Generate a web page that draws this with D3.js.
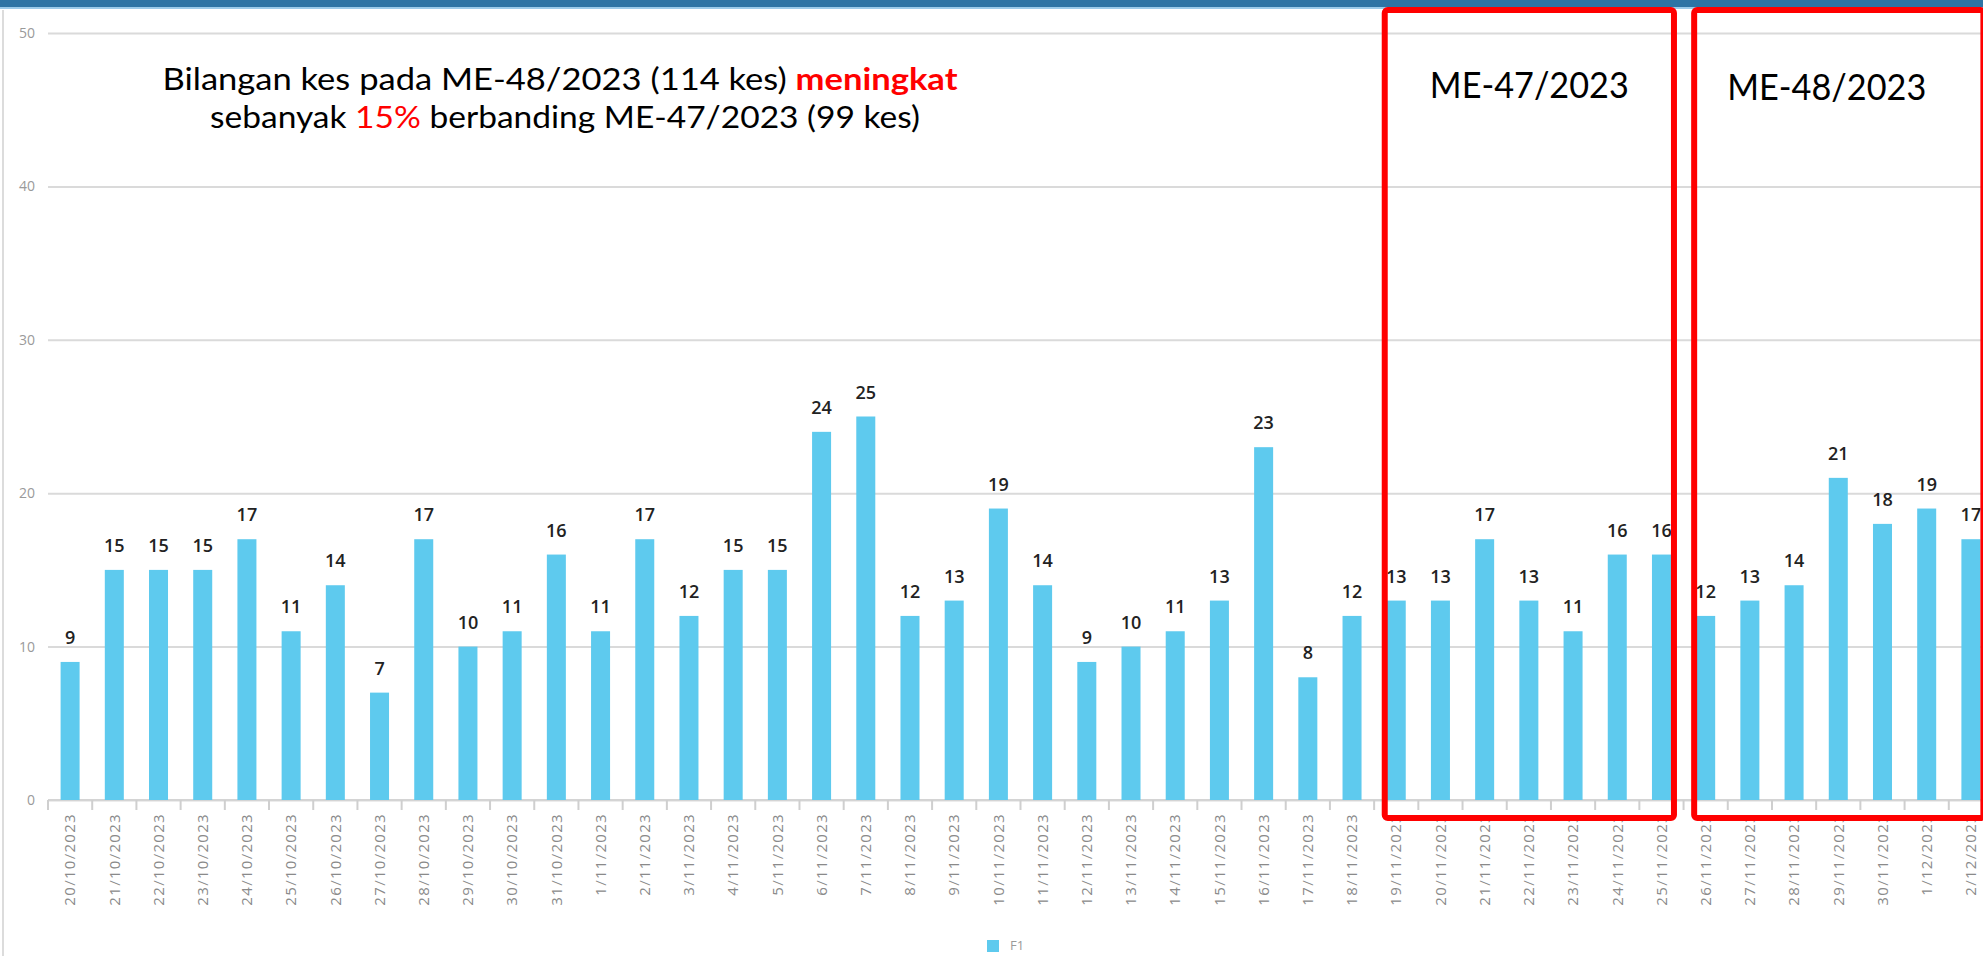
<!DOCTYPE html>
<html>
<head>
<meta charset="utf-8">
<script src="https://cdn.jsdelivr.net/npm/d3@7"></script>
<style>
  body { margin: 0; background: #fff; overflow: hidden; }
  svg { display: block; }
</style>
</head>
<body>
<svg id="chart" width="1983" height="956"></svg>
<script>
// daily case counts, 20/10/2023 - 2/12/2023
var dates = ["20/10/2023","21/10/2023","22/10/2023","23/10/2023","24/10/2023","25/10/2023",
  "26/10/2023","27/10/2023","28/10/2023","29/10/2023","30/10/2023","31/10/2023",
  "1/11/2023","2/11/2023","3/11/2023","4/11/2023","5/11/2023","6/11/2023","7/11/2023",
  "8/11/2023","9/11/2023","10/11/2023","11/11/2023","12/11/2023","13/11/2023","14/11/2023",
  "15/11/2023","16/11/2023","17/11/2023","18/11/2023","19/11/2023","20/11/2023","21/11/2023",
  "22/11/2023","23/11/2023","24/11/2023","25/11/2023","26/11/2023","27/11/2023","28/11/2023",
  "29/11/2023","30/11/2023","1/12/2023","2/12/2023"];
var cases = [9,15,15,15,17,11,14,7,17,10,11,16,
  11,17,12,15,15,24,25,12,13,19,14,9,10,11,13,23,8,12,
  13,13,17,13,11,16,16,12,13,14,21,18,19,17];
var yTicks = [0,10,20,30,40,50];

// highlighted epi weeks: [label, first day, last day]
var weekLabels = ["ME-47/2023","ME-48/2023"];
var weekStart = ["19/11/2023","26/11/2023"];
var weekEnd = ["25/11/2023","2/12/2023"];

var barColor = "#5ecaee";

var svg = d3.select("#chart");

// top banner
svg.append("rect").attr("x",0).attr("y",0).attr("width",1983).attr("height",7).attr("fill","#2e74a5");
svg.append("rect").attr("x",0).attr("y",7).attr("width",1983).attr("height",2).attr("fill","#9ccbea");
svg.append("line").attr("x1",3).attr("x2",3).attr("y1",10).attr("y2",956)
  .attr("stroke","#dcdcdc").attr("stroke-width",2);

var x = d3.scaleBand().domain(dates).range([48, 1993])
  .paddingInner(0.57).paddingOuter(0.285);
var y = d3.scaleLinear().domain([0,50]).range([800, 33]);

// gridlines + y labels
var yAxis = svg.append("g").attr("transform","translate(48,0)")
  .call(d3.axisLeft(y).tickValues(yTicks).tickSize(-1945).tickPadding(13));
yAxis.select(".domain").remove();
yAxis.selectAll(".tick line").attr("stroke","#dadada").attr("stroke-width",2);
yAxis.selectAll(".tick text").attr("fill","#9a9a9a")
  .style("font-family","Open Sans").style("font-size","14px");

// x axis baseline and boundary ticks
svg.append("line").attr("x1",48).attr("x2",1983).attr("y1",y(0)).attr("y2",y(0))
  .attr("stroke","#d4d4d4").attr("stroke-width",2);
var step = x.step();
svg.selectAll(".btick").data(d3.range(dates.length + 1)).enter().append("line")
  .attr("class","btick")
  .attr("x1",function(i){ return 48 + i*step; })
  .attr("x2",function(i){ return 48 + i*step; })
  .attr("y1",y(0)).attr("y2",y(0)+10)
  .attr("stroke","#cfcfcf").attr("stroke-width",2);

// bars
svg.selectAll(".bar").data(dates).enter().append("rect")
  .attr("class","bar")
  .attr("x",function(d){ return x(d); })
  .attr("width",x.bandwidth())
  .attr("y",function(d,i){ return y(cases[i]); })
  .attr("height",function(d,i){ return y(0) - y(cases[i]); })
  .attr("fill",barColor);

// value labels
svg.selectAll(".val").data(dates).enter().append("text")
  .attr("x",function(d){ return x(d) + x.bandwidth()/2; })
  .attr("y",function(d,i){ return y(cases[i]) - 18; })
  .attr("text-anchor","middle")
  .style("font-family","Open Sans").style("font-size","18px").style("font-weight","600")
  .attr("fill","#222")
  .text(function(d,i){ return cases[i]; });

// date labels
svg.selectAll(".dlab").data(dates).enter().append("text")
  .attr("transform",function(d){ return "translate(" + (x(d) + x.bandwidth()/2) + ",813) rotate(-90)"; })
  .attr("text-anchor","end").attr("dy","0.35em")
  .style("font-family","Open Sans").style("font-size","15px").style("letter-spacing","1.3px")
  .attr("fill","#8a8a8a")
  .text(function(d){ return d; });

// annotation
var note = svg.append("g").style("font-family","Lato").style("font-size","30px").attr("fill","#000");
var l1 = note.append("text").attr("x",560).attr("y",90).attr("text-anchor","middle")
  .attr("textLength",795).attr("lengthAdjust","spacingAndGlyphs");
l1.append("tspan").text("Bilangan kes pada ME-48/2023 (114 kes) ");
l1.append("tspan").attr("fill","#ff0000").style("font-weight","bold").text("meningkat");
var l2 = note.append("text").attr("x",565).attr("y",128).attr("text-anchor","middle")
  .attr("textLength",710).attr("lengthAdjust","spacingAndGlyphs");
l2.append("tspan").text("sebanyak ");
l2.append("tspan").attr("fill","#ff0000").text("15%");
l2.append("tspan").text(" berbanding ME-47/2023 (99 kes)");

// week boxes
weekLabels.forEach(function(lab, k) {
  var left = x(weekStart[k]) - 2;
  var right = x(weekEnd[k]) + x.bandwidth() + 3;
  svg.append("rect").attr("x",left).attr("y",10)
    .attr("width",right - left).attr("height",808)
    .attr("rx",3).attr("fill","none").attr("stroke","#ff0000").attr("stroke-width",6);
  svg.append("text").attr("x",(left + right)/2 + (k == 0 ? 0 : -12)).attr("y",98 + k*2)
    .attr("text-anchor","middle")
    .attr("textLength",199).attr("lengthAdjust","spacingAndGlyphs")
    .style("font-family","Lato").style("font-size","36px").attr("fill","#000")
    .text(lab);
});

// legend
svg.append("rect").attr("x",987).attr("y",940).attr("width",12).attr("height",12).attr("fill",barColor);
svg.append("text").attr("x",1010).attr("y",950).style("font-family","Open Sans").style("font-size","13px")
  .attr("fill","#9a9a9a").text("F1");
</script>
</body>
</html>
